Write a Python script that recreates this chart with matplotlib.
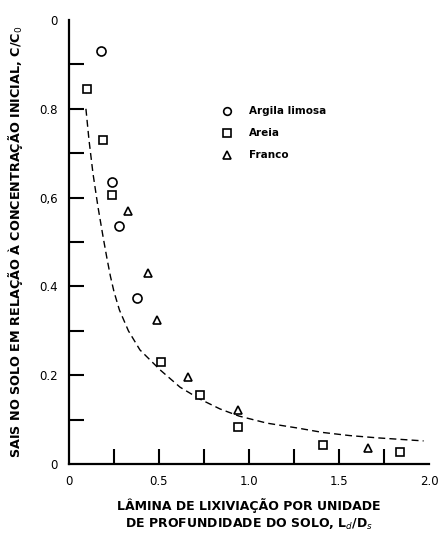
import numpy as np
import matplotlib
matplotlib.use("Agg")
import matplotlib.pyplot as plt

# Argila limosa (circulos)
argila_x = [0.18, 0.24, 0.28, 0.38]
argila_y = [0.93, 0.635, 0.535, 0.375]

# Areia (quadrados)
areia_x = [0.10, 0.19, 0.24, 0.51, 0.73, 0.94, 1.41, 1.84]
areia_y = [0.845, 0.73, 0.605, 0.23, 0.155, 0.083, 0.042, 0.028]

# Franco (triangulos)
franco_x = [0.33, 0.44, 0.49, 0.66, 0.94, 1.66]
franco_y = [0.57, 0.43, 0.325, 0.197, 0.122, 0.035]

# curva tracejada
curva_x = [0.094, 0.111, 0.133, 0.161, 0.19, 0.21, 0.23, 0.25, 0.28, 0.33, 0.394, 0.506,
           0.617, 0.728, 0.839, 0.944, 1.10, 1.27, 1.41, 1.56, 1.71, 1.97]
curva_y = [0.80, 0.73, 0.655, 0.579, 0.51, 0.465, 0.423, 0.388, 0.347, 0.30, 0.257, 0.212,
           0.173, 0.146, 0.124, 0.108, 0.092, 0.081, 0.071, 0.064, 0.059, 0.052]

xticks = [0, 0.5, 1.0, 1.5, 2.0]
xticklabels = ["0", "0.5", "1.0", "1.5", "2.0"]
yticks = [0, 0.2, 0.4, 0.6, 0.8, 1.0]
yticklabels = ["0", "0.2", "0.4", "0,6", "0.8", "0"]

fig = plt.figure(figsize=(4.39, 5.41), dpi=100)
ax = fig.add_axes([69/439, 1-464/541, 360/439, 444/541])

ax.plot(curva_x, curva_y, color='k', lw=1.0, linestyle=(0, (5, 3)))

ms = 6.5
ax.plot(argila_x, argila_y, 'o', mfc='white', mec='k', mew=1.2, ms=ms, linestyle='none')
ax.plot(areia_x, areia_y, 's', mfc='white', mec='k', mew=1.2, ms=ms-0.5, linestyle='none')
ax.plot(franco_x, franco_y, '^', mfc='white', mec='k', mew=1.2, ms=ms-0.5, linestyle='none')

# legenda
leg_items = [('o', "Argila limosa"), ('s', "Areia"), ('^', "Franco")]
for i, (m, txt) in enumerate(leg_items):
    yy = 0.795 - i * 0.05
    ax.plot([0.88], [yy], m, mfc='white', mec='k', mew=1.2, ms=ms-1, clip_on=False)
    ax.text(1.0, yy, txt, fontsize=7.5, fontweight='bold', va='center', ha='left')

ax.set_xlim(0, 2.0)
ax.set_ylim(0, 1.0)
for s in ['top', 'right']:
    ax.spines[s].set_visible(False)
for s in ['left', 'bottom']:
    ax.spines[s].set_linewidth(1.6)

ax.xaxis.remove_overlapping_locs = False
ax.yaxis.remove_overlapping_locs = False
ax.set_xticks(xticks)
ax.set_xticklabels(xticklabels)
ax.set_yticks(yticks)
ax.set_yticklabels(yticklabels)
ax.set_xticks([0.25, 0.5, 0.75, 1.0, 1.25, 1.5, 1.75], minor=True)
ax.set_yticks([0.1, 0.2, 0.3, 0.4, 0.5, 0.6, 0.7, 0.8, 0.9], minor=True)
ax.tick_params(which='major', length=0, labelsize=8.5, pad=8)
ax.tick_params(which='minor', direction='in', length=11, width=1.5)

ax.set_xlabel("LÂMINA DE LIXIVIAÇÃO POR UNIDADE\nDE PROFUNDIDADE DO SOLO, L$_d$/D$_s$",
              fontsize=9, fontweight='bold', labelpad=7, linespacing=1.4)
ax.set_ylabel("SAIS NO SOLO EM RELAÇÃO À CONCENTRAÇÃO INICIAL, C/C$_0$",
              fontsize=9.2, fontweight='bold', labelpad=10)

fig.savefig("out.png", dpi=100)
